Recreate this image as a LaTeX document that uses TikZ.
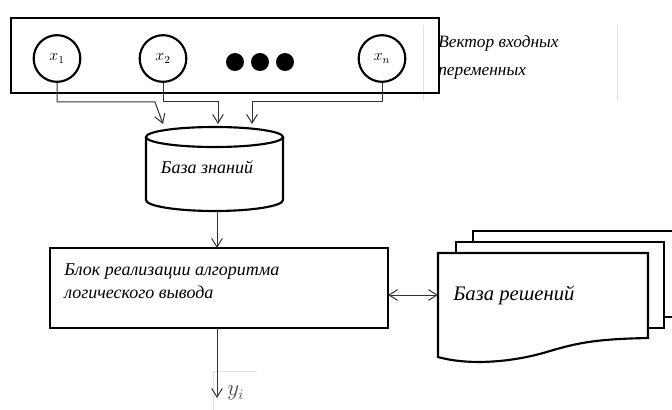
\documentclass[tikz,border=0pt]{standalone}
\usepackage{fontspec}
\setmainfont{Liberation Serif}
\usetikzlibrary{arrows.meta}

\begin{document}
\begin{tikzpicture}[x=0.75pt,y=0.75pt,yscale=-1,xscale=1,
  conn/.style={draw=black!80, line width=0.75pt, -{Straight Barb[length=6.5pt,width=8pt]}},
  heavy/.style={draw, line width=2.1pt},
  varcirc/.style={circle, draw, line width=1.6pt, minimum size=35pt, inner sep=0pt, font=\itshape\fontsize{12}{14}\selectfont},
  bigdot/.style={circle, fill, minimum size=13.5pt, inner sep=0pt},
  kbline/.style={draw, line width=1.6pt},
  doc/.style={draw, line width=1.6pt, fill=white},
  lbl/.style={inner sep=0.75pt, font=\itshape}
]
\useasboundingbox (0,0) rectangle (672,410);

% faint table borders
\draw [black!12, line width=0.75pt] (423,25) -- (423,100) (617,25) -- (617,100);
\draw [black!12, line width=0.75pt] (213,371) -- (257,371) (213,371) -- (213,410);

% input vector
\draw [heavy] (11,18) rectangle (439,93);
\node [varcirc] (x1) at (57,58.5) {\raisebox{-3pt}{$x_1$}\hspace{5pt}};
\node [varcirc] (x2) at (163,58.5) {\raisebox{-3pt}{$x_2$}\hspace{5pt}};
\node [varcirc] (xn) at (382,58.5) {\raisebox{-3pt}{$x_n$}\hspace{5pt}};
\node [bigdot] (d1) at (235,62) {};
\node [bigdot] (d2) at (260,62) {};
\node [bigdot] (d3) at (285,62) {};
\node [lbl, font=\itshape\fontsize{13}{21}\selectfont, anchor=west, align=left] (vec) at (437,57) {Вектор входных\\переменных};

% knowledge base
\draw [kbline] (146,137) -- (146,200) arc [start angle=180, end angle=0, x radius=68.5, y radius=11] -- (283,137);
\draw [kbline] (214.5,137) ellipse [x radius=68.5, y radius=10];
\node [lbl, font=\itshape\fontsize{13.5}{16}\selectfont] (kb) at (207,167) {База знаний};
\coordinate (kbS) at (217,211);
\coordinate (in1) at (163,124);
\coordinate (in2) at (218,124);
\coordinate (in3) at (252,124);

\draw [conn] (x1.south) -- (x1.south |- 0,102) -- (155,102) -- (in1);
\draw [conn] (x2.south) -- (x2.south |- 0,102) -- (in2 |- 0,102) -- (in2);
\draw [conn] (xn.south) -- (xn.south |- 0,102) -- (in3 |- 0,102) -- (in3);

% inference block
\draw [heavy] (50,248) rectangle (388,328);
\coordinate (blkN) at (217,248);
\coordinate (blkS) at (217,328);
\coordinate (blkE) at (388,295);
\node [lbl, font=\itshape\fontsize{13.5}{17.5}\selectfont, anchor=north west, align=left] (blktxt) at (63,262) {Блок реализации алгоритма\\логического вывода};
\draw [conn] (kbS) -- (blkN);

% output
\node [lbl, text=black!70, font=\fontsize{16}{18}\selectfont, anchor=west] (yi) at (226,393) {$y_i$};
\coordinate (out) at (217,398);
\draw [conn] (blkS) -- (out);

% decisions base
\draw [doc] (473,231) -- (700,231) -- (700,317) -- (473,317) -- cycle;
\draw [doc] (456,242) -- (664,242) -- (664,328) -- (456,328) -- cycle;
\draw [doc] (438,253) -- (648,253) -- (648,338)
  .. controls (600,339) and (580,342) .. (550,351)
  .. controls (515,362) and (470,366) .. (438,357) -- cycle;
\node [lbl, font=\itshape\fontsize{15.5}{18}\selectfont, anchor=west] (dec) at (452,295) {База решений};
\coordinate (docW) at (438,295);
\draw [conn, {Straight Barb[length=6.5pt,width=8pt]}-{Straight Barb[length=6.5pt,width=8pt]}] (blkE) -- (docW);

\end{tikzpicture}
\end{document}
